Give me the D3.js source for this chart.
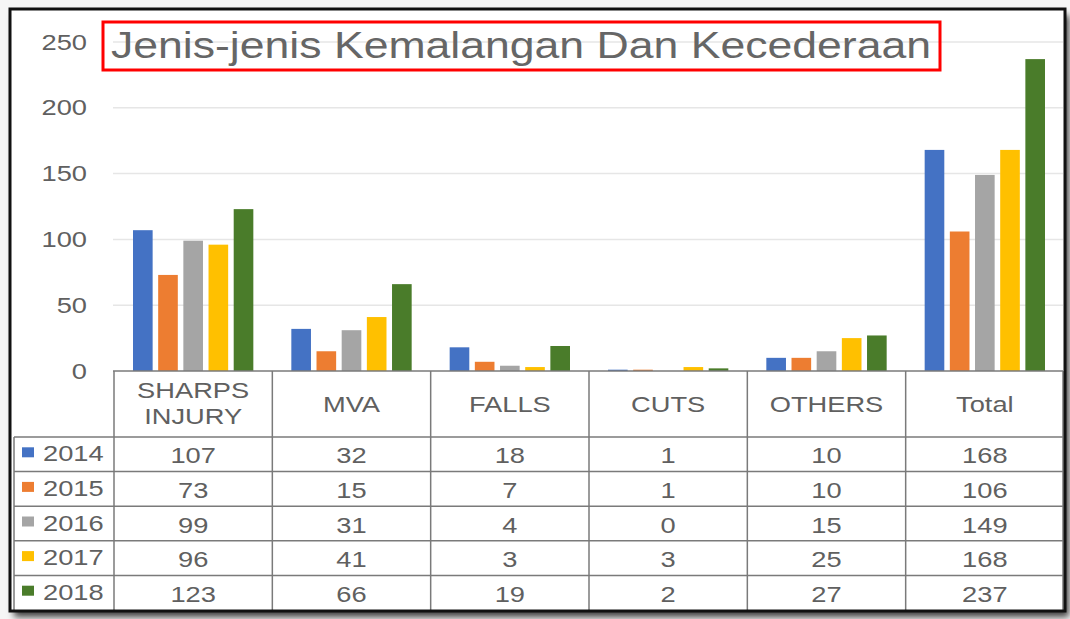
<!DOCTYPE html>
<html>
<head>
<meta charset="utf-8">
<script src="https://cdn.jsdelivr.net/npm/d3@7"></script>
<style>
  body { margin: 0; background: #f6f6f6; }
  svg { display: block; font-family: 'Liberation Sans', Arial, sans-serif; }
</style>
</head>
<body>
<div id="wrapper"></div>
<script>
const title = 'Jenis-jenis Kemalangan Dan Kecederaan'
const categories = ['SHARPS INJURY', 'MVA', 'FALLS', 'CUTS', 'OTHERS', 'Total']
const years = ['2014', '2015', '2016', '2017', '2018']
const values2014 = [107, 32, 18, 1, 10, 168]
const values2015 = [73, 15, 7, 1, 10, 106]
const values2016 = [99, 31, 4, 0, 15, 149]
const values2017 = [96, 41, 3, 3, 25, 168]
const values2018 = [123, 66, 19, 2, 27, 237]
const yTicks = [0, 50, 100, 150, 200, 250]
const colors = ['#4472C4', '#ED7D31', '#A5A5A5', '#FFC000', '#4A7C2A']

const series = [values2014, values2015, values2016, values2017, values2018]
const rows = years.map((year, i) => ({ year, values: series[i], color: colors[i] }))

const width = 1070
const height = 619
const textColor = '#606060'
const lineColor = '#7a7a7a'
const stretchX = 1.24 // the source picture is stretched horizontally

const svg = d3
  .select('#wrapper')
  .append('svg')
  .attr('width', width)
  .attr('height', height)

// drop shadow for the frame
const defs = svg.append('defs')
const shadow = defs.append('filter').attr('id', 'shadow')
  .attr('x', '-5%').attr('y', '-5%').attr('width', '112%').attr('height', '120%')
shadow.append('feDropShadow')
  .attr('dx', 4).attr('dy', 6).attr('stdDeviation', 3.5)
  .attr('flood-color', '#000').attr('flood-opacity', 0.75)

svg.append('rect')
  .attr('x', 10).attr('y', 9).attr('width', 1055).attr('height', 602)
  .attr('fill', '#fff')
  .attr('filter', 'url(#shadow)')

// scales
const plotLeft = 113
const plotRight = 1063
const tableTop = 371
const headerBottom = 437
const tableBottom = 610
const legendLeft = 14

const yScale = d3.scaleLinear().domain([0, 250]).range([tableTop, 42])

const xScale = d3.scaleBand()
  .domain(categories)
  .range([plotLeft + 1, plotRight + 1])

const xInner = d3.scaleBand()
  .domain(years)
  .range([19, xScale.bandwidth() - 19])
  .paddingInner(0.22)

const rowScale = d3.scaleBand()
  .domain(years)
  .range([headerBottom, tableBottom])

// helper: stretched text placed at (x, y)
function stretchedText(parent, x, y, str, size, anchor) {
  return parent.append('text')
    .attr('transform', `translate(${x},${y}) scale(${stretchX},1)`)
    .attr('text-anchor', anchor)
    .attr('fill', textColor)
    .style('font-size', `${size}px`)
    .text(str)
}

// gridlines
svg.append('g')
  .selectAll('line')
  .data(yTicks.filter((d) => d > 0))
  .join('line')
  .attr('x1', plotLeft).attr('x2', plotRight)
  .attr('y1', (d) => yScale(d)).attr('y2', (d) => yScale(d))
  .attr('stroke', '#e6e6e6')
  .attr('stroke-width', 1.5)

// y axis labels
const yAxis = svg.append('g')
  .attr('transform', `translate(${plotLeft - 26},0)`)
  .call(d3.axisLeft(yScale).tickValues(yTicks).tickSize(0).tickPadding(0))
yAxis.select('.domain').remove()
yAxis.selectAll('text')
  .attr('fill', textColor)
  .attr('transform', `scale(${stretchX},1)`)
  .style('font-size', '22px')
  .style('font-family', "'Liberation Sans', Arial, sans-serif")

// bars
svg.append('g')
  .selectAll('g')
  .data(rows)
  .join('g')
  .attr('fill', (d) => d.color)
  .selectAll('rect')
  .data((d) => d.values.map((v, i) => ({ year: d.year, cat: categories[i], v })))
  .join('rect')
  .attr('x', (d) => xScale(d.cat) + xInner(d.year))
  .attr('y', (d) => yScale(d.v))
  .attr('width', xInner.bandwidth())
  .attr('height', (d) => yScale(0) - yScale(d.v))

// title
svg.append('rect')
  .attr('x', 103).attr('y', 22).attr('width', 837).attr('height', 48)
  .attr('fill', 'none')
  .attr('stroke', '#ff0000')
  .attr('stroke-width', 3)
svg.append('text')
  .attr('x', 111).attr('y', 58)
  .attr('fill', '#666')
  .style('font-size', '36px')
  .attr('textLength', 820)
  .attr('lengthAdjust', 'spacingAndGlyphs')
  .text(title)

// table lines
const table = svg.append('g')
  .attr('stroke', lineColor)
  .attr('stroke-width', 1.5)
table.append('line')
  .attr('x1', plotLeft).attr('x2', plotRight)
  .attr('y1', tableTop).attr('y2', tableTop)
table.selectAll('.row-line')
  .data(years)
  .join('line')
  .attr('class', 'row-line')
  .attr('x1', legendLeft).attr('x2', plotRight)
  .attr('y1', (d) => rowScale(d)).attr('y2', (d) => rowScale(d))
table.selectAll('.col-line')
  .data(categories)
  .join('line')
  .attr('class', 'col-line')
  .attr('x1', (d) => xScale(d)).attr('x2', (d) => xScale(d))
  .attr('y1', tableTop).attr('y2', tableBottom)
table.append('line')
  .attr('x1', plotRight).attr('x2', plotRight)
  .attr('y1', tableTop).attr('y2', tableBottom)
table.append('line')
  .attr('x1', legendLeft).attr('x2', legendLeft)
  .attr('y1', headerBottom).attr('y2', tableBottom)

// header labels
const header = svg.append('g')
categories.forEach((cat) => {
  const cx = xScale(cat) + xScale.bandwidth() / 2
  const words = cat.split(' ')
  if (words.length > 1) {
    stretchedText(header, cx, 398, words[0], 22, 'middle')
    stretchedText(header, cx, 424, words[1], 22, 'middle')
  } else {
    stretchedText(header, cx, 412, cat, 22, 'middle')
  }
})

// legend column + cell values
const tableRows = svg.append('g')
rows.forEach((row) => {
  const cy = rowScale(row.year) + rowScale.bandwidth() / 2
  tableRows.append('rect')
    .attr('x', 22).attr('y', cy - 7).attr('width', 12).attr('height', 10)
    .attr('fill', row.color)
  stretchedText(tableRows, 43, cy + 7, row.year, 22, 'start')
  row.values.forEach((v, i) => {
    const cx = xScale(categories[i]) + xScale.bandwidth() / 2
    stretchedText(tableRows, cx, cy + 9, v, 22, 'middle')
  })
})

// frame border on top
svg.append('rect')
  .attr('x', 10).attr('y', 9).attr('width', 1055).attr('height', 602)
  .attr('fill', 'none')
  .attr('stroke', '#111')
  .attr('stroke-width', 3)
</script>
</body>
</html>
